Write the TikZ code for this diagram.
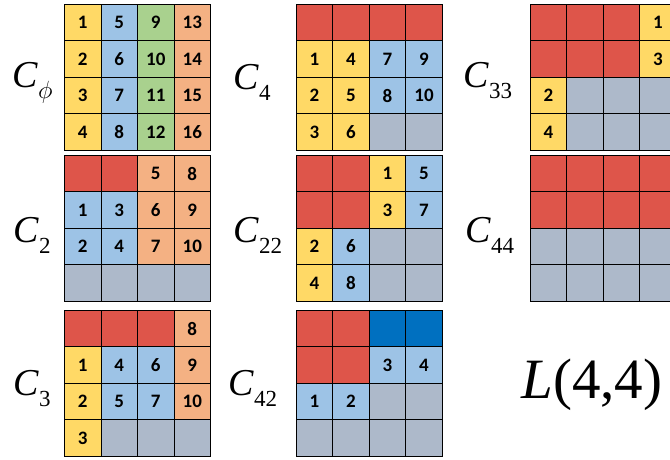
\documentclass[tikz,border=0pt]{standalone}
\usepackage{fontspec}
\usepackage{tikz}
\usetikzlibrary{positioning}
\setmainfont{Liberation Serif}
\newfontfamily\cellfont{Carlito}
\definecolor{cYel}{HTML}{FFD966}
\definecolor{cBlue}{HTML}{9DC3E6}
\definecolor{cGreen}{HTML}{A9D18E}
\definecolor{cOrange}{HTML}{F4B183}
\definecolor{cRed}{HTML}{DE554A}
\definecolor{cGrey}{HTML}{ADB9CA}
\definecolor{cDark}{HTML}{0070C0}
\newcommand{\clab}[1]{\textit{C}\raisebox{-11pt}{\fontsize{23}{23}\selectfont #1}}

\begin{document}
\begin{tikzpicture}[x=1pt,y=-1pt,line width=1pt]
\tikzstyle{cell}=[draw=black,minimum size=36.5pt,inner sep=0pt,
  font=\cellfont\bfseries\fontsize{19}{19}\selectfont]
\tikzstyle{lbl}=[anchor=base west,inner sep=0pt,font=\fontsize{38}{38}\selectfont]
\useasboundingbox (0,0) rectangle (670,460);
\clip (0,0) rectangle (670,460);

% C_phi
\begin{scope}[shift={(64.5,4.5)}]
\foreach \c/\f in {0/cYel,1/cBlue,2/cGreen,3/cOrange}
  \foreach \r in {0,...,3}{
    \pgfmathtruncatemacro{\t}{4*\c+\r+1}
    \draw (\c*36.5+18.25,\r*36.5+18.25) node[cell,fill=\f] (gphi-\c-\r) {\t};
  }
\end{scope}

% C_2
\begin{scope}[shift={(64.5,155.3)}]
\foreach \c/\r/\f/\t in {0/0/cRed/,1/0/cRed/,2/0/cOrange/5,3/0/cOrange/8,
  0/1/cBlue/1,1/1/cBlue/3,2/1/cOrange/6,3/1/cOrange/9,
  0/2/cBlue/2,1/2/cBlue/4,2/2/cOrange/7,3/2/cOrange/10,
  0/3/cGrey/,1/3/cGrey/,2/3/cGrey/,3/3/cGrey/}
  \draw (\c*36.5+18.25,\r*36.5+18.25) node[cell,fill=\f] (gtwo-\c-\r) {\t};
\end{scope}

% C_3
\begin{scope}[shift={(64.5,310.3)}]
\foreach \c/\r/\f/\t in {0/0/cRed/,1/0/cRed/,2/0/cRed/,3/0/cOrange/8,
  0/1/cYel/1,1/1/cBlue/4,2/1/cBlue/6,3/1/cOrange/9,
  0/2/cYel/2,1/2/cBlue/5,2/2/cBlue/7,3/2/cOrange/10,
  0/3/cYel/3,1/3/cGrey/,2/3/cGrey/,3/3/cGrey/}
  \draw (\c*36.5+18.25,\r*36.5+18.25) node[cell,fill=\f] (gthree-\c-\r) {\t};
\end{scope}

% C_4
\begin{scope}[shift={(296.3,4.5)}]
\foreach \c/\r/\f/\t in {0/0/cRed/,1/0/cRed/,2/0/cRed/,3/0/cRed/,
  0/1/cYel/1,1/1/cYel/4,2/1/cBlue/7,3/1/cBlue/9,
  0/2/cYel/2,1/2/cYel/5,2/2/cBlue/8,3/2/cBlue/10,
  0/3/cYel/3,1/3/cYel/6,2/3/cGrey/,3/3/cGrey/}
  \draw (\c*36.5+18.25,\r*36.5+18.25) node[cell,fill=\f] (gfour-\c-\r) {\t};
\end{scope}

% C_22
\begin{scope}[shift={(296.3,155.3)}]
\foreach \c/\r/\f/\t in {0/0/cRed/,1/0/cRed/,2/0/cYel/1,3/0/cBlue/5,
  0/1/cRed/,1/1/cRed/,2/1/cYel/3,3/1/cBlue/7,
  0/2/cYel/2,1/2/cBlue/6,2/2/cGrey/,3/2/cGrey/,
  0/3/cYel/4,1/3/cBlue/8,2/3/cGrey/,3/3/cGrey/}
  \draw (\c*36.5+18.25,\r*36.5+18.25) node[cell,fill=\f] (gtt-\c-\r) {\t};
\end{scope}

% C_42
\begin{scope}[shift={(296.3,310.3)}]
\foreach \c/\r/\f/\t in {0/0/cRed/,1/0/cRed/,2/0/cDark/,3/0/cDark/,
  0/1/cRed/,1/1/cRed/,2/1/cBlue/3,3/1/cBlue/4,
  0/2/cBlue/1,1/2/cBlue/2,2/2/cGrey/,3/2/cGrey/,
  0/3/cGrey/,1/3/cGrey/,2/3/cGrey/,3/3/cGrey/}
  \draw (\c*36.5+18.25,\r*36.5+18.25) node[cell,fill=\f] (gft-\c-\r) {\t};
\end{scope}

% C_33
\begin{scope}[shift={(530.3,4.5)}]
\foreach \c/\r/\f/\t in {0/0/cRed/,1/0/cRed/,2/0/cRed/,3/0/cYel/1,
  0/1/cRed/,1/1/cRed/,2/1/cRed/,3/1/cYel/3,
  0/2/cYel/2,1/2/cGrey/,2/2/cGrey/,3/2/cGrey/,
  0/3/cYel/4,1/3/cGrey/,2/3/cGrey/,3/3/cGrey/}
  \draw (\c*36.5+18.25,\r*36.5+18.25) node[cell,fill=\f] (gth-\c-\r) {\t};
\end{scope}

% C_44
\begin{scope}[shift={(530.3,155.3)}]
\foreach \c in {0,...,3}{
  \draw (\c*36.5+18.25,18.25) node[cell,fill=cRed] (gff-\c-0) {};
  \draw (\c*36.5+18.25,54.75) node[cell,fill=cRed] (gff-\c-1) {};
  \draw (\c*36.5+18.25,91.25) node[cell,fill=cGrey] (gff-\c-2) {};
  \draw (\c*36.5+18.25,127.75) node[cell,fill=cGrey] (gff-\c-3) {};
}
\end{scope}

% labels
\draw (12,88) node[lbl] (lphi) {\textit{C}\raisebox{-11pt}{\fontsize{23}{23}\selectfont$\phi$}};
\draw (13,242) node[lbl] (ltwo) {\clab{2}};
\draw (13,395) node[lbl] (lthree) {\clab{3}};
\draw (233,90) node[lbl] (lfour) {\clab{4}};
\draw (233,242) node[lbl] (ltt) {\clab{22}};
\draw (228,395) node[lbl] (lft) {\clab{42}};
\draw (463,88) node[lbl] (lth) {\clab{33}};
\draw (465,242) node[lbl] (lff) {\clab{44}};
\draw (521,398) node[lbl,font=\fontsize{57}{57}\selectfont] (lL) {\textit{L}(4,4)};

\end{tikzpicture}
\end{document}
